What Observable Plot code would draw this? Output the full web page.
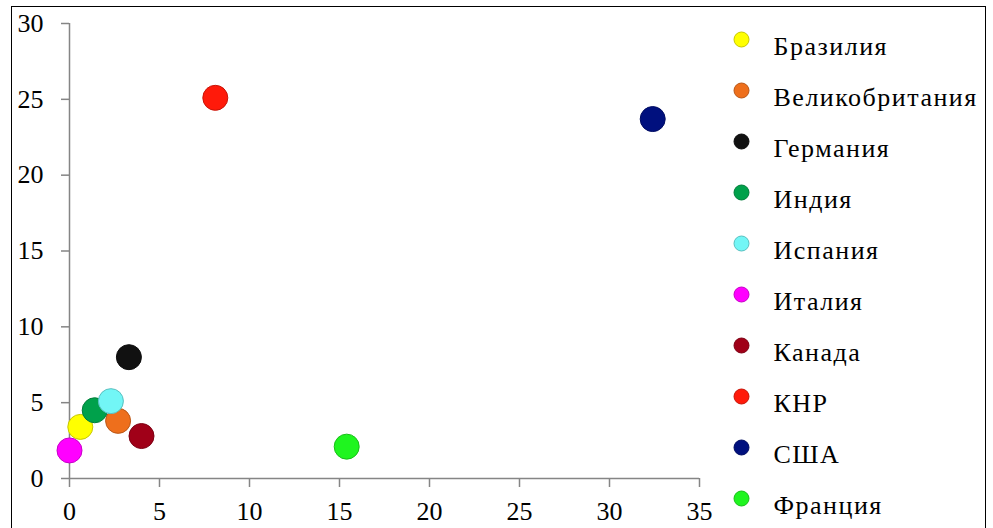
<!DOCTYPE html>
<html><head><meta charset="utf-8">
<script src="https://cdn.jsdelivr.net/npm/d3@7"></script>
<script src="https://cdn.jsdelivr.net/npm/@observablehq/plot@0.6"></script>
<style>
html,body{margin:0;padding:0;background:#fff;}
#wrap{position:relative;width:993px;height:528px;overflow:hidden;background:#fff;}
#frame{position:absolute;left:11px;top:6px;width:975px;height:540px;border:1.5px solid #000;box-sizing:border-box;}
#chart{position:absolute;left:0;top:0;}
#legendDots{position:absolute;left:720px;top:0;}
#legendText{position:absolute;left:720px;top:0;}
#wrap svg, #wrap svg text{font-family:"Liberation Serif","Times New Roman",serif;}
</style></head><body>
<div id="wrap"><div id="frame"></div><div id="chart"></div><div id="legendDots"></div><div id="legendText"></div></div>
<script>
const countries = ["Бразилия","Великобритания","Германия","Индия","Испания","Италия","Канада","КНР","США","Франция"];
const xValues = [0.6, 2.7, 3.3, 1.4, 2.3, 0.0, 4.0, 8.1, 32.4, 15.4];
const yValues = [3.4, 3.8, 8.0, 4.5, 5.1, 1.85, 2.8, 25.1, 23.7, 2.1];
const colors = ["#ffff00","#ee6f1c","#111111","#00a14b","#72f6f6","#ff00ff","#a00018","#ff1a0a","#00107e","#1ff51f"];
const xTicks = [0, 5, 10, 15, 20, 25, 30, 35];
const yTicks = [0, 5, 10, 15, 20, 25, 30];

const rows = countries.map((c, i) => ({country: c, x: xValues[i], y: yValues[i], color: colors[i],
  edge: d3.color(colors[i]).darker(0.7).formatHex()}));

const font = "Liberation Serif";
const baseStyle = {fontFamily: font, fontSize: "26px", color: "#000", background: "transparent"};

const chart = Plot.plot({
  width: 993, height: 528,
  marginLeft: 69, marginRight: 294, marginTop: 23, marginBottom: 50,
  x: {domain: [0, 35]},
  y: {domain: [0, 30]},
  color: {type: "identity"},
  style: baseStyle,
  marks: [
    Plot.ruleX([0], {y1: 0, y2: 30, stroke: "#858585", strokeWidth: 1.5}),
    Plot.ruleY([0], {x1: 0, x2: 35, stroke: "#858585", strokeWidth: 1.5}),
    Plot.axisY({ticks: yTicks, tickSize: 8, tickPadding: 18, stroke: "#858585", fill: "#000", fontSize: 26, fontFamily: font, label: null, strokeWidth: 1.5}),
    Plot.axisX({ticks: xTicks, tickSize: 9, tickPadding: 14, stroke: "#858585", fill: "#000", fontSize: 26, fontFamily: font, label: null, strokeWidth: 1.5}),
    Plot.dot(rows, {x: "x", y: "y", r: 12.5, fill: "color", stroke: "edge", strokeWidth: 1})
  ]
});
document.getElementById("chart").append(chart);

const legendDots = Plot.plot({
  width: 273, height: 528,
  marginLeft: 0, marginRight: 0, marginTop: 35, marginBottom: 27,
  y: {type: "point", domain: countries, axis: null, padding: 0},
  x: {axis: null},
  color: {type: "identity"},
  style: baseStyle,
  marks: [
    Plot.dot(rows, {y: "country", fill: "color", stroke: "edge", strokeWidth: 1, r: 7.5, frameAnchor: "left", dx: 21})
  ]
});
document.getElementById("legendDots").append(legendDots);

const legendText = Plot.plot({
  width: 273, height: 528,
  marginLeft: 0, marginRight: 0, marginTop: 46, marginBottom: 23,
  y: {type: "point", domain: countries, axis: null, padding: 0},
  x: {axis: null},
  style: baseStyle,
  marks: [
    Plot.text(rows, {y: "country", text: "country", frameAnchor: "left", dx: 53, textAnchor: "start", fill: "#000", fontSize: 26, fontFamily: font})
  ]
});
legendText.querySelectorAll("text").forEach(t => t.setAttribute("letter-spacing", "1.5"));
document.getElementById("legendText").append(legendText);
</script>
</body></html>
